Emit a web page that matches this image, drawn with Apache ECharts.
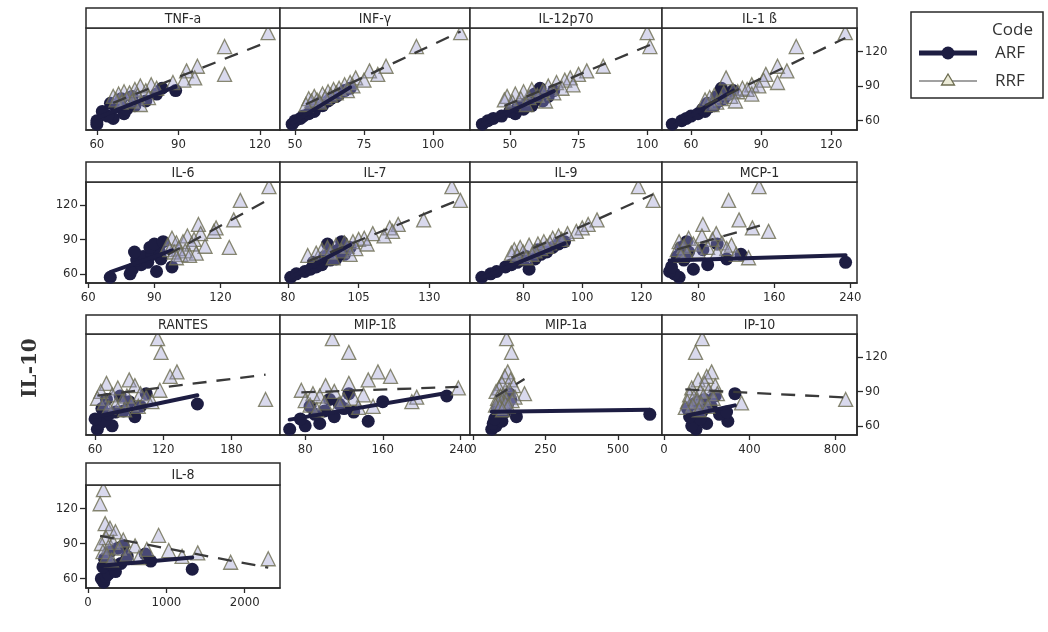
<!DOCTYPE html>
<html>
<head>
<meta charset="utf-8">
<script src="https://cdn.jsdelivr.net/npm/echarts@6/dist/echarts.min.js"></script>
<style>
  html, body { margin: 0; padding: 0; background: #ffffff; }
  #chart { width: 1048px; height: 632px; }
</style>
</head>
<body>
<div id="chart"></div>
<script>
// IL-10 level of every subject (the shared y variable of all panels)
const il10ARF = [57, 60, 62, 64, 66, 68, 70, 72, 73, 75, 77, 79, 81, 83, 86, 88];
const il10RRF = [136, 124, 107, 103, 100, 97, 95, 93, 91, 90, 88, 87, 86, 85, 84, 83, 82, 81, 80, 79, 78, 77, 76, 74];

// Panel names (cytokine on the x axis)
const panels = ['TNF-a', 'INF-γ', 'IL-12p70', 'IL-1 ß', 'IL-6', 'IL-7', 'IL-9', 'MCP-1',
                'RANTES', 'MIP-1ß', 'MIP-1a', 'IP-10', 'IL-8'];

// Cytokine levels, same subject order as il10ARF / il10RRF
const tnfArf    = [60, 60, 66, 64, 70, 62, 71, 67, 74, 65, 78, 69, 73, 82, 89, 84];
const tnfRrf    = [123, 107, 97, 93, 107, 96, 92, 88, 80, 76, 82, 74, 78, 70, 72, 68, 75, 66, 79, 71, 67, 73, 69, 76];
const infArf    = [49, 50, 52, 53, 55, 57, 56, 58, 60, 59, 62, 63, 65, 66, 68, 70];
const infRrf    = [110, 94, 83, 77, 80, 72, 75, 70, 68, 71, 66, 64, 69, 62, 65, 60, 63, 57, 61, 55, 58, 56, 59, 54];
const il12Arf   = [40, 42, 44, 47, 52, 50, 55, 53, 58, 56, 62, 60, 64, 59, 66, 61];
const il12Rrf   = [100, 101, 84, 78, 75, 72, 70, 67, 73, 64, 69, 58, 62, 55, 66, 52, 60, 49, 57, 54, 48, 63, 51, 56];
const il1bArf   = [52, 56, 58, 60, 63, 66, 65, 68, 70, 67, 72, 74, 71, 76, 78, 73];
const il1bRrf   = [126, 105, 97, 101, 92, 75, 91, 97, 86, 89, 82, 84, 78, 80, 74, 86, 70, 77, 68, 73, 66, 79, 71, 69];
const il6Arf    = [70, 79, 91, 80, 98, 84, 87, 82, 93, 85, 89, 81, 92, 88, 90, 94];
const il6Rrf    = [142, 129, 126, 110, 118, 117, 111, 105, 98, 108, 103, 100, 107, 96, 113, 124, 101, 97, 104, 99, 109, 102, 106, 100];
const il7Arf    = [81, 83, 86, 88, 90, 92, 89, 95, 97, 93, 100, 96, 98, 102, 94, 99];
const il7Rrf    = [138, 141, 128, 119, 116, 117, 110, 114, 107, 105, 103, 100, 108, 97, 101, 94, 104, 92, 99, 95, 90, 102, 87, 96];
const il9Arf    = [66, 69, 71, 82, 74, 76, 78, 80, 84, 81, 86, 88, 85, 90, 92, 94];
const il9Rrf    = [119, 124, 105, 102, 100, 98, 95, 92, 90, 93, 87, 89, 85, 82, 88, 79, 86, 77, 84, 80, 76, 83, 78, 81];
const mcpArf    = [60, 55, 50, 75, 52, 90, 235, 65, 110, 58, 125, 70, 85, 62, 100, 68];
const mcpRrf    = [144, 112, 123, 85, 137, 154, 99, 84, 70, 95, 60, 105, 75, 115, 65, 90, 110, 58, 80, 100, 68, 120, 62, 133];
const rantesArf = [62, 75, 64, 68, 60, 95, 72, 78, 85, 66, 100, 150, 90, 70, 82, 105];
const rantesRrf = [115, 118, 132, 126, 90, 70, 95, 80, 117, 65, 100, 75, 88, 105, 62, 210, 84, 110, 68, 92, 78, 98, 72, 86];
const mipbArf   = [64, 80, 95, 145, 75, 110, 90, 130, 100, 120, 85, 115, 160, 105, 226, 125];
const mipbRrf   = [108, 125, 155, 168, 145, 125, 101, 238, 76, 110, 88, 140, 95, 195, 130, 120, 80, 190, 100, 115, 85, 150, 135, 92];
const mipaArf   = [65, 80, 70, 100, 75, 150, 610, 110, 90, 85, 95, 120, 105, 130, 115, 125];
const mipaRrf   = [116, 133, 120, 110, 130, 100, 140, 90, 125, 80, 178, 105, 95, 145, 85, 115, 135, 98, 88, 112, 78, 122, 92, 102];
const ipArf     = [150, 130, 200, 299, 170, 120, 260, 293, 180, 110, 220, 140, 160, 190, 240, 332];
const ipRrf     = [179, 148, 223, 200, 160, 190, 240, 130, 210, 170, 250, 120, 185, 140, 230, 850, 155, 110, 363, 175, 135, 205, 100, 165];
const il8Arf    = [200, 170, 230, 260, 350, 1330, 190, 300, 420, 800, 210, 500, 730, 280, 380, 450];
const il8Rrf    = [196, 154, 218, 280, 350, 900, 230, 450, 320, 170, 600, 260, 400, 750, 1030, 190, 1400, 500, 240, 1200, 650, 2300, 300, 1820];

// x-axis extent and tick labels of every panel
const xMin   = [56, 44.6, 35.5, 47.6, 59, 77.2, 62, 42, 52, 54, -10, -9, -26];
const xMax   = [127.4, 113.4, 105.4, 131, 147, 144.4, 127, 247, 222.7, 250, 652, 903, 2450];
const xTicks = [[60, 90, 120], [50, 75, 100], [50, 75, 100], [60, 90, 120], [60, 90, 120], [80, 105, 130],
                [80, 100, 120], [80, 160, 240], [60, 120, 180], [80, 160, 240], [0, 250, 500], [0, 400, 800],
                [0, 1000, 2000]];
// IL-10 axis
const yRange = [52, 140];
const yTicks = [60, 90, 120];

const arfX = [tnfArf, infArf, il12Arf, il1bArf, il6Arf, il7Arf, il9Arf, mcpArf, rantesArf, mipbArf, mipaArf, ipArf, il8Arf];
const rrfX = [tnfRrf, infRrf, il12Rrf, il1bRrf, il6Rrf, il7Rrf, il9Rrf, mcpRrf, rantesRrf, mipbRrf, mipaRrf, ipRrf, il8Rrf];

// least-squares line over the x span of one group
function fitLine(xs, ys) {
  const n = xs.length;
  const mx = xs.reduce((s, v) => s + v, 0) / n;
  const my = ys.reduce((s, v) => s + v, 0) / n;
  let sxy = 0, sxx = 0;
  for (let i = 0; i < n; i++) { sxy += (xs[i] - mx) * (ys[i] - my); sxx += (xs[i] - mx) * (xs[i] - mx); }
  const b = sxy / sxx, a = my - b * mx;
  const lo = Math.min(...xs), hi = Math.max(...xs);
  return [[lo, a + b * lo], [hi, a + b * hi]];
}

// panel layout (pixels)
const colLeft = [86, 280, 470, 662];
const colRight = [280, 470, 662, 857];
const stripTop = [8, 162, 315, 463];
const plotTop = [28, 182, 334, 485];
const plotBottom = [130, 283, 435, 588];

const FONT = "'DejaVu Sans Condensed', 'DejaVu Sans', sans-serif";
const INK = '#2a2a2a';
const NAVY = '#1d1d42';
const plain = v => String(v);

const grids = [], xAxes = [], yAxes = [], series = [], graphics = [];

panels.forEach((name, i) => {
  const r = Math.floor(i / 4), c = i % 4;
  const left = colLeft[c], width = colRight[c] - colLeft[c];
  grids.push({
    left: left, top: plotTop[r], width: width, height: plotBottom[r] - plotTop[r],
    show: true, borderColor: INK, borderWidth: 1.5, backgroundColor: '#fff'
  });
  xAxes.push({
    type: 'value', gridIndex: i, min: xMin[i], max: xMax[i],
    axisLine: { show: true, onZero: false, lineStyle: { color: INK, width: 1.5 } },
    axisTick: { show: true, length: 5, lineStyle: { color: INK, width: 1.3 }, customValues: xTicks[i] },
    axisLabel: { customValues: xTicks[i], formatter: plain, fontFamily: FONT, fontSize: 13, color: INK, margin: 8 },
    splitLine: { show: false }
  });
  let side = null;
  if ((r === 0 || r === 2) && c === 3) side = 'right';
  if ((r === 1 || r === 3) && c === 0) side = 'left';
  yAxes.push({
    type: 'value', gridIndex: i, min: yRange[0], max: yRange[1], position: side || 'left',
    axisLine: { show: !!side, onZero: false, lineStyle: { color: INK, width: 1.5 } },
    axisTick: { show: !!side, length: 6, lineStyle: { color: INK, width: 1.3 }, customValues: yTicks },
    axisLabel: { show: !!side, customValues: yTicks, formatter: plain, fontFamily: FONT, fontSize: 13, color: INK, margin: 8 },
    splitLine: { show: false }
  });

  const ax = arfX[i], rx = rrfX[i];
  series.push({
    name: 'ARF', type: 'scatter', xAxisIndex: i, yAxisIndex: i, z: 2,
    symbol: 'circle', symbolSize: 13,
    itemStyle: { color: NAVY, opacity: 1 },
    data: ax.map((x, k) => [x, il10ARF[k]])
  });
  series.push({
    name: 'RRF', type: 'scatter', xAxisIndex: i, yAxisIndex: i, z: 3,
    symbol: 'triangle', symbolSize: 14,
    itemStyle: { color: 'rgba(150,150,205,0.45)', borderColor: '#6c6c50', borderWidth: 1.3 },
    data: rx.map((x, k) => [x, il10RRF[k]])
  });
  series.push({
    name: 'ARF fit', type: 'line', xAxisIndex: i, yAxisIndex: i, z: 4,
    showSymbol: false, lineStyle: { color: NAVY, width: 4, cap: 'round' },
    data: fitLine(ax, il10ARF)
  });
  series.push({
    name: 'RRF fit', type: 'line', xAxisIndex: i, yAxisIndex: i, z: 5,
    showSymbol: false, lineStyle: { color: '#3a3a3a', width: 2.3, type: [14, 10] },
    data: fitLine(rx, il10RRF)
  });

  // panel header strip
  graphics.push({
    type: 'rect', silent: true, z: 10,
    shape: { x: left, y: stripTop[r], width: width, height: plotTop[r] - stripTop[r] },
    style: { fill: '#fff', stroke: INK, lineWidth: 1.5 }
  });
  graphics.push({
    type: 'text', silent: true, z: 11,
    x: left + width / 2, y: (stripTop[r] + plotTop[r]) / 2 + 1,
    style: { text: name, font: "14px " + FONT, fill: INK, align: 'center', verticalAlign: 'middle',
             textAlign: 'center', textVerticalAlign: 'middle' }
  });
});

// IL-10 axis title
graphics.push({
  type: 'text', silent: true, x: 31, y: 368, rotation: Math.PI / 2,
  style: { text: 'IL-10', font: "bold 20px 'DejaVu Serif', serif", fill: '#333',
           align: 'center', verticalAlign: 'middle', textAlign: 'center', textVerticalAlign: 'middle' }
});

// legend box
const legendText = { font: "17px 'Open Sans', sans-serif", fill: '#333' };
graphics.push({ type: 'rect', silent: true, shape: { x: 911, y: 12, width: 132, height: 86 },
                style: { fill: '#fff', stroke: INK, lineWidth: 1.5 } });
graphics.push({ type: 'text', silent: true, x: 1033, y: 30,
                style: Object.assign({ text: 'Code', align: 'right', verticalAlign: 'middle', textAlign: 'right', textVerticalAlign: 'middle' }, legendText) });
graphics.push({ type: 'line', silent: true, shape: { x1: 919, y1: 53, x2: 977, y2: 53 },
                style: { stroke: NAVY, lineWidth: 5 } });
graphics.push({ type: 'circle', silent: true, shape: { cx: 948, cy: 53, r: 6.5 }, style: { fill: NAVY } });
graphics.push({ type: 'text', silent: true, x: 995, y: 53,
                style: Object.assign({ text: 'ARF', align: 'left', verticalAlign: 'middle', textAlign: 'left', textVerticalAlign: 'middle' }, legendText) });
graphics.push({ type: 'line', silent: true, shape: { x1: 919, y1: 81, x2: 977, y2: 81 },
                style: { stroke: '#444', lineWidth: 1.2 } });
graphics.push({ type: 'polygon', silent: true, shape: { points: [[948, 74], [954.5, 85], [941.5, 85]] },
                style: { fill: '#ecebd8', stroke: '#6c6c50', lineWidth: 1.3 } });
graphics.push({ type: 'text', silent: true, x: 995, y: 81,
                style: Object.assign({ text: 'RRF', align: 'left', verticalAlign: 'middle', textAlign: 'left', textVerticalAlign: 'middle' }, legendText) });

const chart = echarts.init(document.getElementById('chart'), null, { renderer: 'canvas' });
chart.setOption({
  animation: false,
  backgroundColor: '#ffffff',
  grid: grids,
  xAxis: xAxes,
  yAxis: yAxes,
  series: series,
  graphic: { elements: graphics }
});
</script>
</body>
</html>
